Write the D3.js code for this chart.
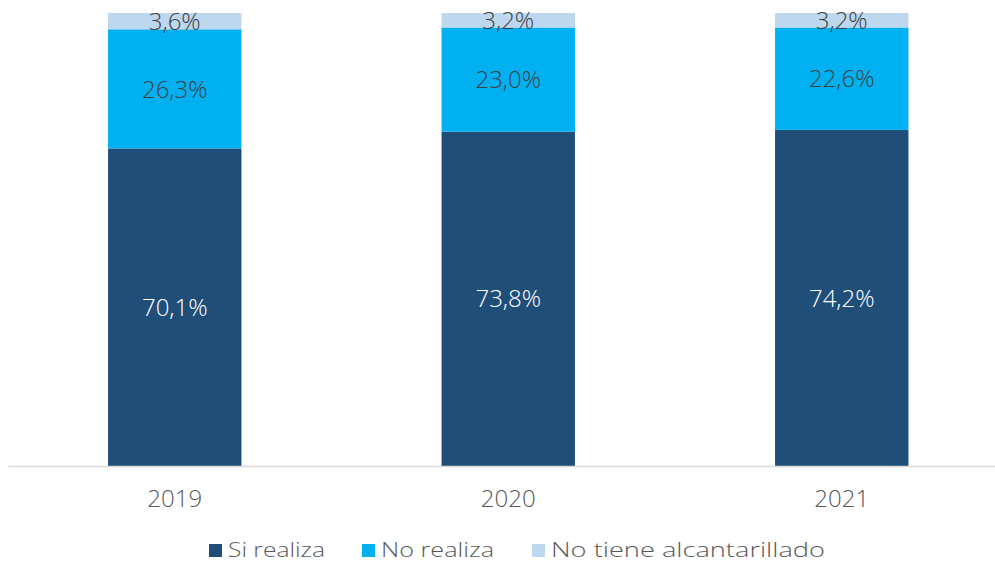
<!DOCTYPE html>
<html><head><meta charset="utf-8">
<script src="https://cdn.jsdelivr.net/npm/d3@7"></script>
<style>body{margin:0;background:#fff;} svg{display:block;font-family:"Open Sans",sans-serif;font-weight:300;}</style>
</head><body>
<svg id="c" width="995" height="563"></svg>
<script>
const years = ["2019","2020","2021"];
const seriesNames = ["Si realiza","No realiza","No tiene alcantarillado"];
const siRealiza = [70.1, 73.8, 74.2];
const noRealiza = [26.3, 23.0, 22.6];
const noTiene = [3.6, 3.2, 3.2];
const colors = ["#1F4E79","#00B0F0","#BDD7EE"];
const labelColors = ["#ffffff","#404040","#404040"];

const rows = years.map((y,i)=>({year:y, "Si realiza":siRealiza[i], "No realiza":noRealiza[i], "No tiene alcantarillado":noTiene[i]}));
const stack = d3.stack().keys(seriesNames)(rows);

const svg = d3.select("#c");
const x = d3.scaleBand().domain(years).range([8, 1008.5]).paddingInner(0.6).paddingOuter(0.3);
const y = d3.scaleLinear().domain([0,100]).range([466, 13]);

const fmt = v => v.toFixed(1).replace(".", ",") + "%";

const g = svg.append("g");
stack.forEach((s,si)=>{
  g.selectAll(null).data(s).enter().append("rect")
    .attr("x", d=>x(d.data.year)).attr("width", x.bandwidth())
    .attr("y", d=>y(d[1])).attr("height", d=>y(d[0])-y(d[1]))
    .attr("fill", colors[si]);
  g.selectAll(null).data(s).enter().append("text")
    .attr("x", d=>x(d.data.year)+x.bandwidth()/2)
    .attr("y", d=>(y(d[0])+y(d[1]))/2)
    .attr("dy","0.36em").attr("text-anchor","middle")
    .attr("font-size", 24).attr("fill", labelColors[si])
    .text(d=>fmt(d[1]-d[0]));
});

// axis
const ax = svg.append("g").attr("transform","translate(0,466)").call(d3.axisBottom(x).tickSize(0).tickPadding(0));
ax.select(".domain").attr("stroke","#D9D9D9").attr("stroke-width",1.5);
ax.selectAll("text").attr("font-size",24).attr("fill","#595959").attr("font-family","'Open Sans',sans-serif").attr("font-weight",300)
  .attr("y",32).attr("dy","0.36em");

// legend
const legX = [209, 362, 532];
const legW = [97, 113, 274];
const lg = svg.append("g");
seriesNames.forEach((n,i)=>{
  lg.append("rect").attr("x",legX[i]).attr("y",544).attr("width",13).attr("height",13).attr("fill",colors[i]);
  lg.append("text").attr("x",legX[i]+19).attr("y",557).attr("font-size",21).attr("fill","#595959")
    .attr("textLength",legW[i]).attr("lengthAdjust","spacingAndGlyphs").text(n);
});
</script>
</body></html>
